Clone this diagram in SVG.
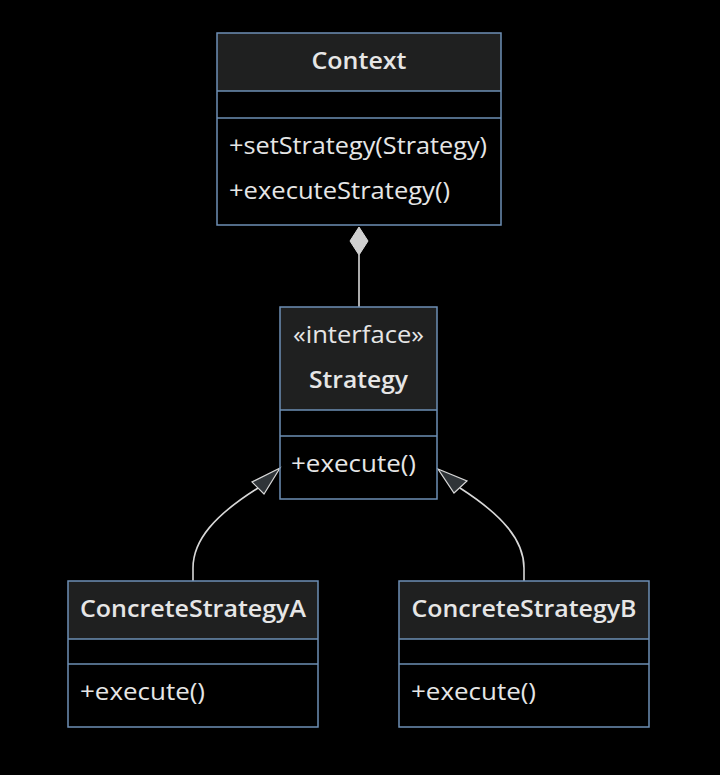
<svg xmlns="http://www.w3.org/2000/svg" width="720" height="775" viewBox="0 0 720 775">
<style>
.hdr{fill:#1f2020;stroke:none}
.box{fill:none;stroke:#6d8fb5;stroke-width:1.5}
.sep{stroke:#6d8fb5;stroke-width:1.5}
text{font-family:"Open Sans","Noto Sans",sans-serif;fill:#e6e6e6;font-size:24px}
.t{font-weight:600;text-anchor:middle}
.c{text-anchor:middle}
.edge{fill:none;stroke:#d8d8d8;stroke-width:1.6}
</style>
<rect width="720" height="775" fill="#000"/>
<g id="edges">
<path class="edge" d="M359,255 L359,307"/>
<polygon points="359,227 368,241 359,255 350,241" fill="#d0d0d0" stroke="#d8d8d8" stroke-width="1"/>
<path class="edge" d="M193,581 L193,568 C193,540 215,515 258,488"/>
<polygon points="280,468 252,482 264,494" fill="#2f3438" stroke="#d8d8d8" stroke-width="1.2"/>
<path class="edge" d="M524,581 L524,568 C524,540 502,515 460,488"/>
<polygon points="438,469 467,481 454,493" fill="#2f3438" stroke="#d8d8d8" stroke-width="1.2"/>
</g>
<g id="Context">
<rect class="hdr" x="217" y="33" width="284" height="58"/>
<rect class="box" x="217" y="33" width="284" height="192"/>
<line class="sep" x1="217" y1="91" x2="501" y2="91"/>
<line class="sep" x1="217" y1="118" x2="501" y2="118"/>
<text class="t" x="359" y="69" textLength="95" lengthAdjust="spacingAndGlyphs">Context</text>
<text x="229" y="154" textLength="258" lengthAdjust="spacingAndGlyphs">+setStrategy(Strategy)</text>
<text x="229" y="199" textLength="221" lengthAdjust="spacingAndGlyphs">+executeStrategy()</text>
</g>
<g id="Strategy">
<rect class="hdr" x="280" y="307" width="157" height="103"/>
<rect class="box" x="280" y="307" width="157" height="192"/>
<line class="sep" x1="280" y1="410" x2="437" y2="410"/>
<line class="sep" x1="280" y1="436" x2="437" y2="436"/>
<text class="c" x="358.500" y="343" textLength="131" lengthAdjust="spacingAndGlyphs">«interface»</text>
<text class="t" x="358.500" y="388" textLength="99" lengthAdjust="spacingAndGlyphs">Strategy</text>
<text x="291" y="472" textLength="125" lengthAdjust="spacingAndGlyphs">+execute()</text>
</g>
<g id="ConcreteStrategyA">
<rect class="hdr" x="68" y="581" width="250" height="58"/>
<rect class="box" x="68" y="581" width="250" height="146"/>
<line class="sep" x1="68" y1="639" x2="318" y2="639"/>
<line class="sep" x1="68" y1="664" x2="318" y2="664"/>
<text class="t" x="193" y="617" textLength="226" lengthAdjust="spacingAndGlyphs">ConcreteStrategyA</text>
<text x="80" y="700" textLength="125" lengthAdjust="spacingAndGlyphs">+execute()</text>
</g>
<g id="ConcreteStrategyB">
<rect class="hdr" x="399" y="581" width="250" height="58"/>
<rect class="box" x="399" y="581" width="250" height="146"/>
<line class="sep" x1="399" y1="639" x2="649" y2="639"/>
<line class="sep" x1="399" y1="664" x2="649" y2="664"/>
<text class="t" x="524" y="617" textLength="225" lengthAdjust="spacingAndGlyphs">ConcreteStrategyB</text>
<text x="411" y="700" textLength="125" lengthAdjust="spacingAndGlyphs">+execute()</text>
</g>
</svg>
